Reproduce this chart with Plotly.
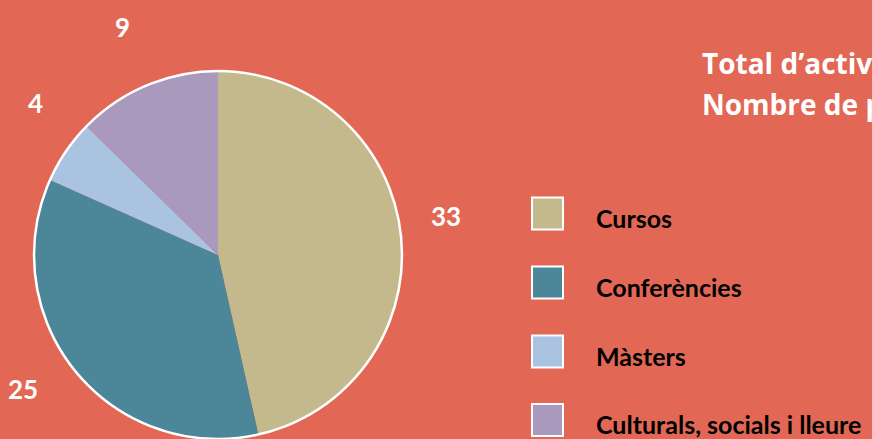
import plotly.graph_objects as go

categories = ["Cursos", "Conferències", "Màsters", "Culturals, socials i lleure"]
values = [33, 25, 4, 9]
colors = ["#C4B98C", "#4B8699", "#A9C3E1", "#A999BD"]
title_lines = ["Total d’activitats", "Nombre de participants"]

BG = "#E26855"
W, H = 872, 439

# pie geometry (pixels)
cx, cy, r = 218, 255, 184
dom_x = [(cx - r) / W, (cx + r) / W]
dom_y = [(H - cy - r) / H, (H - cy + r) / H]

fig = go.Figure()
fig.add_trace(go.Pie(
    values=values, labels=categories, sort=False, direction="clockwise", rotation=0,
    marker=dict(colors=colors, line=dict(width=0)),
    textinfo="none", hoverinfo="label+value", showlegend=False,
    domain=dict(x=dom_x, y=dom_y),
))
# outer white ring
fig.add_trace(go.Pie(
    values=[sum(values)], labels=["total"], sort=False,
    marker=dict(colors=["rgba(0,0,0,0)"], line=dict(color="white", width=2.5)),
    textinfo="none", hoverinfo="skip", showlegend=False,
    domain=dict(x=dom_x, y=dom_y),
))

FONT = "Lato, 'Open Sans', sans-serif"
TITLE_FONT = "'Open Sans', Lato, sans-serif"

# value labels (pixel positions of label centres)
label_pos = [(446, 216), (23, 389), (35, 103), (122.5, 27)]
for v, (px, py) in zip(values, label_pos):
    fig.add_annotation(x=px / W, y=1 - py / H, xref="paper", yref="paper",
                       text=f"<b>{v}</b>", showarrow=False,
                       xanchor="center", yanchor="middle",
                       font=dict(family=FONT, size=26, color="white"))

# title lines
for i, t in enumerate(title_lines):
    fig.add_annotation(x=700 / W, y=1 - (63 + 41 * i) / H, xref="paper", yref="paper",
                       text=f"<b>{t}</b>", showarrow=False,
                       xanchor="left", yanchor="middle",
                       font=dict(family=TITLE_FONT, size=28, color="white"))

# custom legend
row_y = [213.5, 282.5, 351.5, 420]
for cat, col, ry in zip(categories, colors, row_y):
    fig.add_shape(type="rect", xref="paper", yref="paper",
                  x0=532 / W, x1=563 / W, y0=1 - (ry - 16) / H, y1=1 - (ry + 16) / H,
                  fillcolor=col, line=dict(color="white", width=2))
    fig.add_annotation(x=594 / W, y=1 - (ry + 4) / H, xref="paper", yref="paper",
                       text=f"<b>{cat}</b>", showarrow=False,
                       xanchor="left", yanchor="middle",
                       font=dict(family=FONT, size=25, color="black"))

fig.update_layout(
    width=W, height=H,
    margin=dict(l=0, r=0, t=0, b=0),
    paper_bgcolor=BG, plot_bgcolor=BG,
    showlegend=False,
)

fig.write_html(
    "out.html",
    config={"displayModeBar": False},
    post_script="document.body.style.margin='0';document.body.style.background='%s';" % BG,
)
